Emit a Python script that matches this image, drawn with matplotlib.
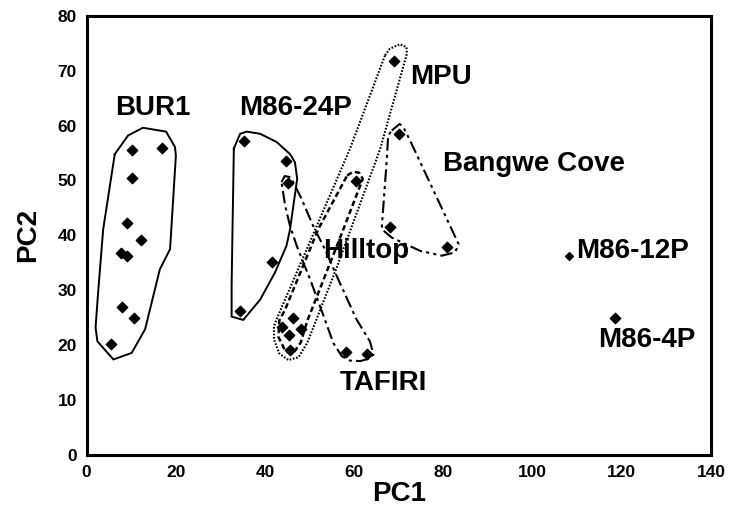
import matplotlib.pyplot as plt

plt.rcParams['font.family'] = ['Liberation Sans', 'DejaVu Sans']
plt.rcParams['font.weight'] = 'bold'

# sample scores (PC1, PC2) by group
bur1_x = [5.4, 7.6, 7.9, 9.0, 9.1, 10.1, 10.1, 10.6, 12.2, 16.8]
bur1_y = [20.2, 36.7, 26.9, 42.3, 36.3, 55.6, 50.4, 24.9, 39.1, 55.9]
m8624_x = [35.3, 44.7, 41.5, 34.4]
m8624_y = [57.1, 53.5, 35.2, 26.2]
mpu_x = [68.8]
mpu_y = [71.7]
hilltop_x = [60.3]
hilltop_y = [49.9]
cluster_x = [46.2, 43.9, 48.0, 45.4, 45.7]
cluster_y = [24.9, 23.3, 23.0, 21.8, 19.2]
tafiri_x = [45.1, 58.1, 62.8]
tafiri_y = [49.5, 18.8, 18.4]
bangwe_x = [70.0, 68.0, 80.9]
bangwe_y = [58.4, 41.6, 37.8]
m8612_x, m8612_y = [108.1], [36.3]
m864_x, m864_y = [118.5], [24.9]

# hand-drawn group outlines (PC1, PC2)
bur1_hull = [(6.3, 54.8), (9.3, 58.2), (12.6, 59.6), (17.8, 58.9), (19.8, 56.1),
             (20.0, 54.5), (18.7, 37.5), (16.4, 33.8), (13.1, 22.9), (10.1, 18.6),
             (6.0, 17.4), (2.4, 20.7), (2.0, 23.2), (2.5, 28.9), (3.7, 41.1)]
m8624_hull = [(33.0, 55.8), (34.4, 58.5), (35.9, 58.9), (38.9, 58.5), (42.6, 57.0),
              (45.6, 54.8), (46.7, 53.3), (47.2, 50.3), (45.6, 41.1), (44.8, 38.1),
              (42.2, 33.2), (38.9, 28.3), (35.1, 24.6), (32.5, 25.2), (32.5, 30.8),
              (32.7, 41.1)]
mpu_hull = [(66.9, 72.8), (68.0, 74.0), (70.2, 74.8), (71.7, 74.3), (71.8, 73.1),
            (65.8, 55.7), (56.0, 34.0), (49.5, 20.5), (47.5, 17.8), (45.2, 17.3),
            (43.2, 18.5), (42.0, 21.0), (42.0, 23.5), (43.0, 25.5), (59.0, 55.7)]
hilltop_hull = [(58.4, 50.9), (59.8, 51.6), (61.1, 51.4), (61.9, 50.3), (61.3, 49.0),
                (56.4, 38.7), (49.5, 24.5), (48.0, 20.5), (46.3, 18.5), (44.5, 19.0),
                (43.0, 21.5), (43.2, 24.5), (44.5, 26.5), (51.9, 41.1)]
tafiri_hull = [(43.7, 49.7), (44.4, 50.8), (45.7, 50.6), (46.7, 49.1), (48.2, 46.6),
               (50.8, 41.7), (53.4, 37.5), (56.4, 32.0), (60.5, 24.7), (63.5, 20.7),
               (64.3, 18.3), (63.1, 17.5), (61.3, 17.1), (59.0, 17.2), (57.2, 18.0),
               (55.3, 20.4), (53.4, 24.7), (50.1, 32.0), (48.6, 35.0), (47.1, 38.1),
               (45.6, 41.7), (44.5, 45.4)]
bangwe_hull = [(68.4, 59.1), (70.2, 60.3), (71.0, 59.7), (72.5, 57.3), (83.4, 38.4),
               (82.6, 36.9), (79.6, 36.3), (74.7, 37.2), (68.4, 39.6), (66.2, 41.1),
               (66.2, 41.8), (67.3, 53.9), (67.6, 58.2)]

labels = ['BUR1', 'M86-24P', 'MPU', 'Bangwe Cove', 'Hilltop', 'TAFIRI', 'M86-12P', 'M86-4P']
label_x = [14.9, 46.9, 79.4, 100.3, 62.6, 66.5, 122.3, 125.6]
label_y = [63.2, 63.2, 68.9, 53.0, 37.2, 13.2, 37.2, 21.0]

fig = plt.figure(figsize=(7.32, 5.18), dpi=100)
ax = fig.add_axes([0.1184, 0.1216, 0.853, 0.848])


def outline(hull, ls, lw):
    xs = [p[0] for p in hull] + [hull[0][0]]
    ys = [p[1] for p in hull] + [hull[0][1]]
    ax.plot(xs, ys, color='black', linestyle=ls, linewidth=lw)


outline(bur1_hull, '-', 1.4)
outline(m8624_hull, '-', 1.4)
outline(mpu_hull, (0, (0.8, 0.8)), 1.5)
outline(hilltop_hull, (0, (2.2, 1.3)), 1.8)
outline(tafiri_hull, (0, (6, 2, 1.5, 2)), 1.5)
outline(bangwe_hull, (0, (6, 2, 1.5, 2, 1.5, 2)), 1.5)

all_x = bur1_x + m8624_x + mpu_x + hilltop_x + cluster_x + tafiri_x + bangwe_x + m864_x
all_y = bur1_y + m8624_y + mpu_y + hilltop_y + cluster_y + tafiri_y + bangwe_y + m864_y
ax.scatter(all_x, all_y, marker='D', s=28, color='black', zorder=3)
ax.scatter(m8612_x, m8612_y, marker='D', s=16, color='black', zorder=3)

for t, x, y in zip(labels, label_x, label_y):
    ax.text(x, y, t, fontsize=20, fontweight='bold', ha='center', va='center')

ax.set_xlim(0, 140)
ax.set_ylim(0, 80)
ax.set_xticks(range(0, 141, 20))
ax.set_yticks(range(0, 81, 10))
ax.tick_params(length=0, labelsize=12.5, pad=7)
for lab in ax.get_xticklabels() + ax.get_yticklabels():
    lab.set_fontweight('bold')
for s in ax.spines.values():
    s.set_linewidth(2.2)
ax.set_xlabel('PC1', fontsize=20, fontweight='bold', labelpad=1)
ax.set_ylabel('PC2', fontsize=20, fontweight='bold', labelpad=12)

fig.savefig('out.png', dpi=100)
